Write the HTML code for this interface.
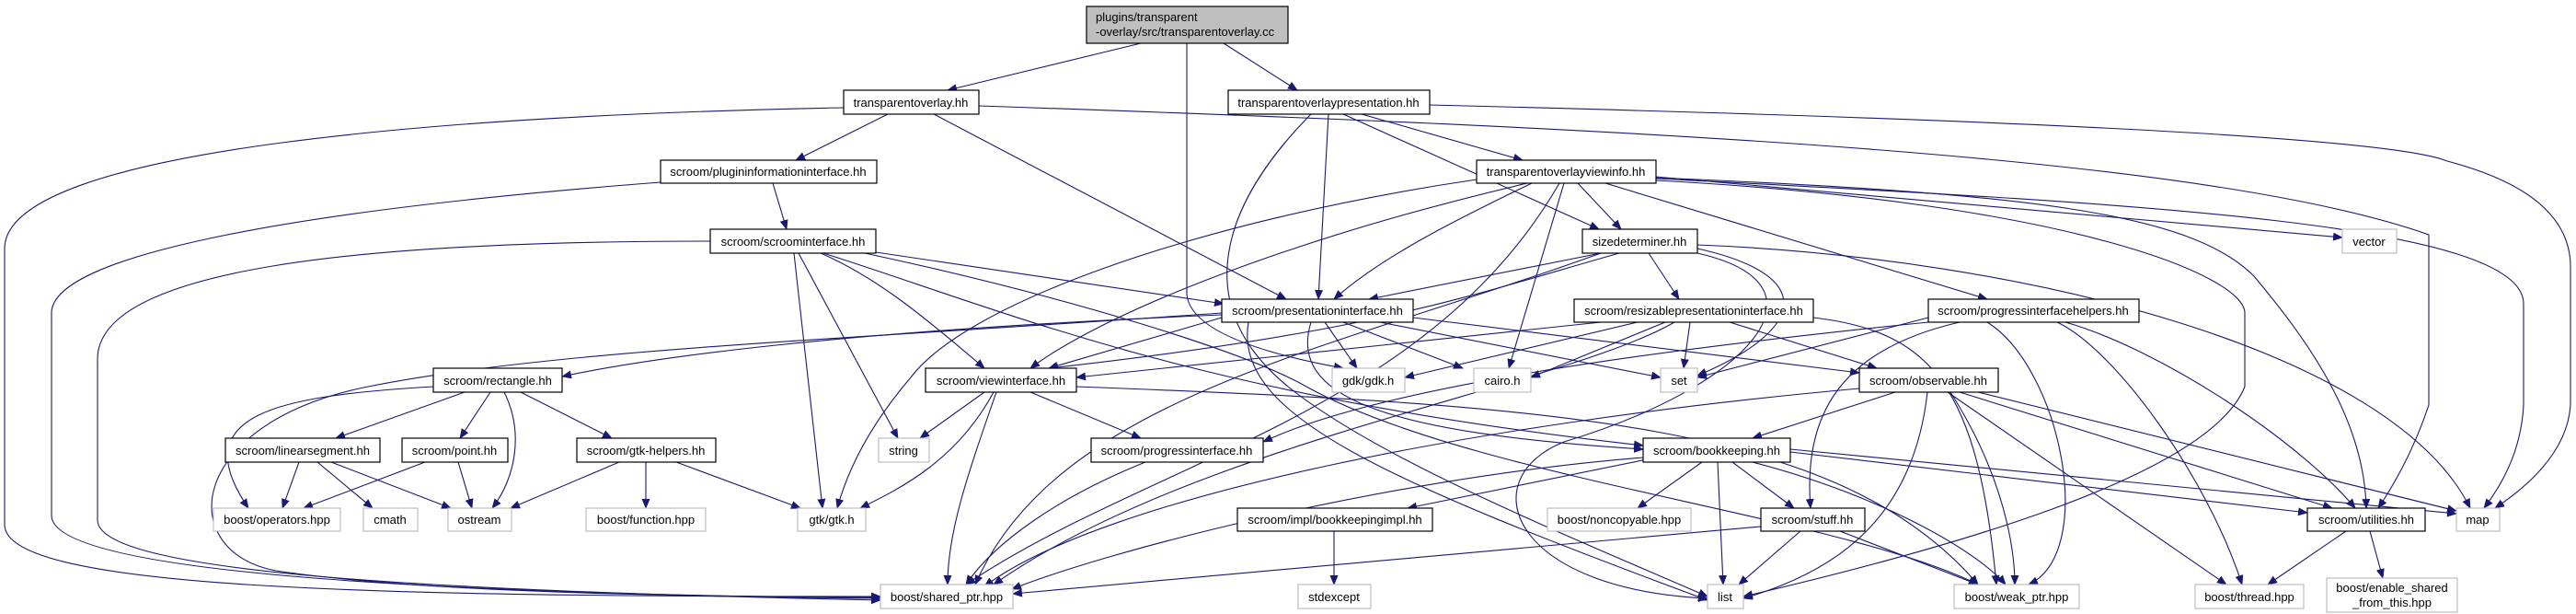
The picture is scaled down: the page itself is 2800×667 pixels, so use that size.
<!DOCTYPE html>
<html><head><meta charset="utf-8"><style>
html,body{margin:0;padding:0;background:#fff;}
svg{display:block;}
text{font-family:"Liberation Sans",Arial,sans-serif;font-size:13px;fill:#000;}
.e{fill:none;stroke:#191970;stroke-width:1.1;marker-end:url(#a);}
.n{fill:#fff;stroke:#000;stroke-width:1.2;}
.g{fill:#fff;stroke:#bfbfbf;stroke-width:1.2;}
</style></head><body>
<svg width="2800" height="667" viewBox="0 0 2800 667" xmlns="http://www.w3.org/2000/svg">
<defs><marker id="a" markerWidth="11" markerHeight="9" refX="10" refY="4.5" orient="auto" markerUnits="userSpaceOnUse"><path d="M0,0 L11,4.5 L0,9z" fill="#191970"/></marker></defs>
<g>
<path class="e" d="M1240,47 L1030,98"/>
<path class="e" d="M1330,47 L1410,98"/>
<path class="e" d="M1290,47 L1290,320 Q1295,370 1460,400"/>
<path class="e" d="M965,124 L865,174"/>
<path class="e" d="M1015,124 L1398,325"/>
<path class="e" d="M917,117 C500,125 5,160 5,270 L5,570 C5,640 400,648 957,648"/>
<path class="e" d="M1064,115 C1800,140 2400,170 2640,255 L2640,440 Q2620,500 2585,552"/>
<path class="e" d="M1554,114 C2200,130 2600,150 2660,175 Q2794,210 2794,290 L2794,440 Q2790,500 2712,552"/>
<path class="e" d="M1480,124 L1655,174"/>
<path class="e" d="M1444,124 L1433,325"/>
<path class="e" d="M1460,124 L1738,249"/>
<path class="e" d="M1425,124 C1330,220 1290,330 1400,420 C1500,500 1700,580 1856,648"/>
<path class="e" d="M1605,195 C1300,240 1050,330 990,410 Q930,480 910,552"/>
<path class="e" d="M718,198 C300,230 56,280 56,340 L56,560 C56,625 500,645 957,650"/>
<path class="e" d="M840,199 L855,249"/>
<path class="e" d="M772,262 C400,262 106,290 106,390 L106,565 C106,625 500,642 957,652"/>
<path class="e" d="M952,274 L1330,330"/>
<path class="e" d="M892,275 C950,300 1000,340 1070,400"/>
<path class="e" d="M868,275 L976,476"/>
<path class="e" d="M863,275 L894,552"/>
<path class="e" d="M895,275 C1100,340 1300,430 1786,484"/>
<path class="e" d="M940,275 C1150,320 1350,380 1420,420 C1600,520 2000,560 2150,635"/>
<path class="e" d="M1740,275 L1488,325"/>
<path class="e" d="M1760,275 C1600,320 1500,360 1140,400"/>
<path class="e" d="M1792,275 L1825,325"/>
<path class="e" d="M1845,270 C1980,300 1960,360 1845,408"/>
<path class="e" d="M1845,266 C2200,280 2600,380 2685,552"/>
<path class="e" d="M1845,275 C2000,310 1900,420 1700,480 C1600,520 1640,640 1856,650"/>
<path class="e" d="M1740,275 C1450,380 1150,430 1060,635"/>
<path class="e" d="M1665,199 C1580,240 1500,280 1450,325"/>
<path class="e" d="M1660,199 C1400,260 1200,340 1120,400"/>
<path class="e" d="M1715,199 L1762,249"/>
<path class="e" d="M1700,199 L1640,400"/>
<path class="e" d="M1695,199 C1550,450 1250,500 1050,635"/>
<path class="e" d="M1800,192 L2546,258"/>
<path class="e" d="M1800,193 C2200,210 2380,230 2450,300 C2500,360 2570,450 2572,552"/>
<path class="e" d="M1800,194 C2300,220 2743,240 2743,330 L2743,440 Q2740,500 2700,552"/>
<path class="e" d="M1745,199 L2160,325"/>
<path class="e" d="M1800,196 C2250,220 2440,300 2440,340 L2440,420 C2400,520 2100,600 1895,648"/>
<path class="e" d="M1440,350 L1475,400"/>
<path class="e" d="M1460,350 L1590,400"/>
<path class="e" d="M1500,350 L1805,410"/>
<path class="e" d="M1328,345 L1140,400"/>
<path class="e" d="M1328,342 C900,360 700,390 611,409"/>
<path class="e" d="M1328,340 C900,370 600,380 400,420 C200,460 190,600 300,620 C500,650 900,648 957,649"/>
<path class="e" d="M1536,345 L2021,405"/>
<path class="e" d="M1425,350 C1400,430 1500,470 1786,488"/>
<path class="e" d="M1357,350 C1340,450 1500,520 1856,652"/>
<path class="e" d="M1740,350 L1170,410"/>
<path class="e" d="M1780,350 L1527,410"/>
<path class="e" d="M1810,350 L1664,410"/>
<path class="e" d="M1837,350 L1830,400"/>
<path class="e" d="M1880,350 L2040,400"/>
<path class="e" d="M1820,350 C1700,420 1300,480 1080,635"/>
<path class="e" d="M1971,345 C2100,360 2150,420 2170,635"/>
<path class="e" d="M2096,345 L1845,410"/>
<path class="e" d="M2096,350 C1800,380 1500,420 1373,480"/>
<path class="e" d="M2130,350 C2000,380 1960,450 1968,552"/>
<path class="e" d="M2236,350 C2300,380 2400,520 2437,635"/>
<path class="e" d="M2245,350 C2350,380 2500,480 2560,552"/>
<path class="e" d="M2160,350 C2240,400 2280,600 2205,635"/>
<path class="e" d="M471,420 C300,430 200,450 270,552"/>
<path class="e" d="M505,426 L365,476"/>
<path class="e" d="M533,426 L500,476"/>
<path class="e" d="M548,426 C570,470 560,520 535,552"/>
<path class="e" d="M566,426 L665,476"/>
<path class="e" d="M325,502 L307,552"/>
<path class="e" d="M345,502 L405,552"/>
<path class="e" d="M360,502 L490,552"/>
<path class="e" d="M462,502 L330,552"/>
<path class="e" d="M498,502 L513,552"/>
<path class="e" d="M673,502 L555,552"/>
<path class="e" d="M702,502 L702,552"/>
<path class="e" d="M735,502 L870,552"/>
<path class="e" d="M1070,426 L1000,476"/>
<path class="e" d="M1080,426 C1040,500 980,530 935,552"/>
<path class="e" d="M1083,426 C1050,520 1030,580 1030,635"/>
<path class="e" d="M1120,426 L1240,476"/>
<path class="e" d="M1170,420 C1700,440 2000,460 2150,635"/>
<path class="e" d="M1245,502 C1150,540 1080,590 1050,635"/>
<path class="e" d="M2060,426 L1905,476"/>
<path class="e" d="M2095,426 C2080,560 2000,620 1895,650"/>
<path class="e" d="M2120,426 C2180,520 2190,600 2190,635"/>
<path class="e" d="M2117,426 L2420,635"/>
<path class="e" d="M2130,426 L2535,552"/>
<path class="e" d="M2150,426 L2670,555"/>
<path class="e" d="M2021,422 C1600,460 1200,540 1070,637"/>
<path class="e" d="M1795,498 L1530,552"/>
<path class="e" d="M1850,502 L1780,552"/>
<path class="e" d="M1867,502 L1873,635"/>
<path class="e" d="M1883,502 L1950,552"/>
<path class="e" d="M1905,502 C2050,540 2150,600 2180,635"/>
<path class="e" d="M1946,491 L2508,557"/>
<path class="e" d="M1946,488 L2670,558"/>
<path class="e" d="M1786,497 C1500,520 1200,600 1100,640"/>
<path class="e" d="M1450,577 L1450,635"/>
<path class="e" d="M1914,572 L1101,645"/>
<path class="e" d="M1957,577 L1890,635"/>
<path class="e" d="M2000,577 L2150,635"/>
<path class="e" d="M2550,577 L2465,635"/>
<path class="e" d="M2576,577 L2590,628"/>
</g>
<g text-anchor="middle">
<rect x="1181" y="7" width="219" height="40" fill="#bfbfbf" stroke="#000" stroke-width="1.2"/>
<text x="1191" y="23" text-anchor="start">plugins/transparent</text>
<text x="1191" y="39" text-anchor="start">-overlay/src/transparentoverlay.cc</text>

<rect class="n" x="917" y="98" width="147" height="26"/><text x="990" y="116">transparentoverlay.hh</text>
<rect class="n" x="1335" y="98" width="219" height="26"/><text x="1444" y="116">transparentoverlaypresentation.hh</text>
<rect class="n" x="718" y="174" width="235" height="25"/><text x="835" y="191">scroom/plugininformationinterface.hh</text>
<rect class="n" x="1605" y="174" width="195" height="25"/><text x="1702" y="191">transparentoverlayviewinfo.hh</text>
<rect class="n" x="772" y="249" width="180" height="26"/><text x="862" y="267">scroom/scroominterface.hh</text>
<rect class="n" x="1720" y="249" width="125" height="26"/><text x="1782" y="267">sizedeterminer.hh</text>
<rect class="g" x="2546" y="249" width="59" height="26"/><text x="2575" y="267">vector</text>
<rect class="n" x="1328" y="325" width="208" height="25"/><text x="1432" y="342">scroom/presentationinterface.hh</text>
<rect class="n" x="1711" y="325" width="260" height="25"/><text x="1841" y="342">scroom/resizablepresentationinterface.hh</text>
<rect class="n" x="2096" y="325" width="229" height="25"/><text x="2210" y="342">scroom/progressinterfacehelpers.hh</text>
<rect class="n" x="471" y="400" width="140" height="26"/><text x="541" y="418">scroom/rectangle.hh</text>
<rect class="n" x="1006" y="400" width="164" height="26"/><text x="1088" y="418">scroom/viewinterface.hh</text>
<rect class="g" x="1448" y="400" width="79" height="26"/><text x="1487" y="418">gdk/gdk.h</text>
<rect class="g" x="1602" y="400" width="62" height="26"/><text x="1633" y="418">cairo.h</text>
<rect class="g" x="1805" y="400" width="40" height="26"/><text x="1825" y="418">set</text>
<rect class="n" x="2021" y="400" width="151" height="26"/><text x="2096" y="418">scroom/observable.hh</text>
<rect class="n" x="245" y="476" width="168" height="26"/><text x="329" y="494">scroom/linearsegment.hh</text>
<rect class="n" x="437" y="476" width="115" height="26"/><text x="494" y="494">scroom/point.hh</text>
<rect class="n" x="627" y="476" width="151" height="26"/><text x="702" y="494">scroom/gtk-helpers.hh</text>
<rect class="g" x="955" y="476" width="55" height="26"/><text x="982" y="494">string</text>
<rect class="n" x="1186" y="476" width="187" height="26"/><text x="1279" y="494">scroom/progressinterface.hh</text>
<rect class="n" x="1786" y="476" width="160" height="26"/><text x="1866" y="494">scroom/bookkeeping.hh</text>
<rect class="g" x="232" y="552" width="138" height="25"/><text x="301" y="569">boost/operators.hpp</text>
<rect class="g" x="395" y="552" width="59" height="25"/><text x="424" y="569">cmath</text>
<rect class="g" x="487" y="552" width="69" height="25"/><text x="521" y="569">ostream</text>
<rect class="g" x="637" y="552" width="130" height="25"/><text x="702" y="569">boost/function.hpp</text>
<rect class="g" x="867" y="552" width="74" height="25"/><text x="904" y="569">gtk/gtk.h</text>
<rect class="n" x="1345" y="552" width="212" height="25"/><text x="1451" y="569">scroom/impl/bookkeepingimpl.hh</text>
<rect class="g" x="1682" y="552" width="156" height="25"/><text x="1760" y="569">boost/noncopyable.hpp</text>
<rect class="n" x="1914" y="552" width="113" height="25"/><text x="1970" y="569">scroom/stuff.hh</text>
<rect class="n" x="2508" y="552" width="128" height="25"/><text x="2572" y="569">scroom/utilities.hh</text>
<rect class="g" x="2670" y="552" width="47" height="25"/><text x="2693" y="569">map</text>
<rect class="g" x="957" y="635" width="144" height="26"/><text x="1029" y="653">boost/shared_ptr.hpp</text>
<rect class="g" x="1411" y="635" width="79" height="26"/><text x="1450" y="653">stdexcept</text>
<rect class="g" x="1856" y="635" width="39" height="26"/><text x="1875" y="653">list</text>
<rect class="g" x="2124" y="635" width="136" height="26"/><text x="2192" y="653">boost/weak_ptr.hpp</text>
<rect class="g" x="2386" y="635" width="118" height="26"/><text x="2445" y="653">boost/thread.hpp</text>
<rect class="g" x="2529" y="628" width="142" height="37"/><text x="2600" y="643">boost/enable_shared</text><text x="2600" y="659">_from_this.hpp</text>
</g>
</svg>
</body></html>
